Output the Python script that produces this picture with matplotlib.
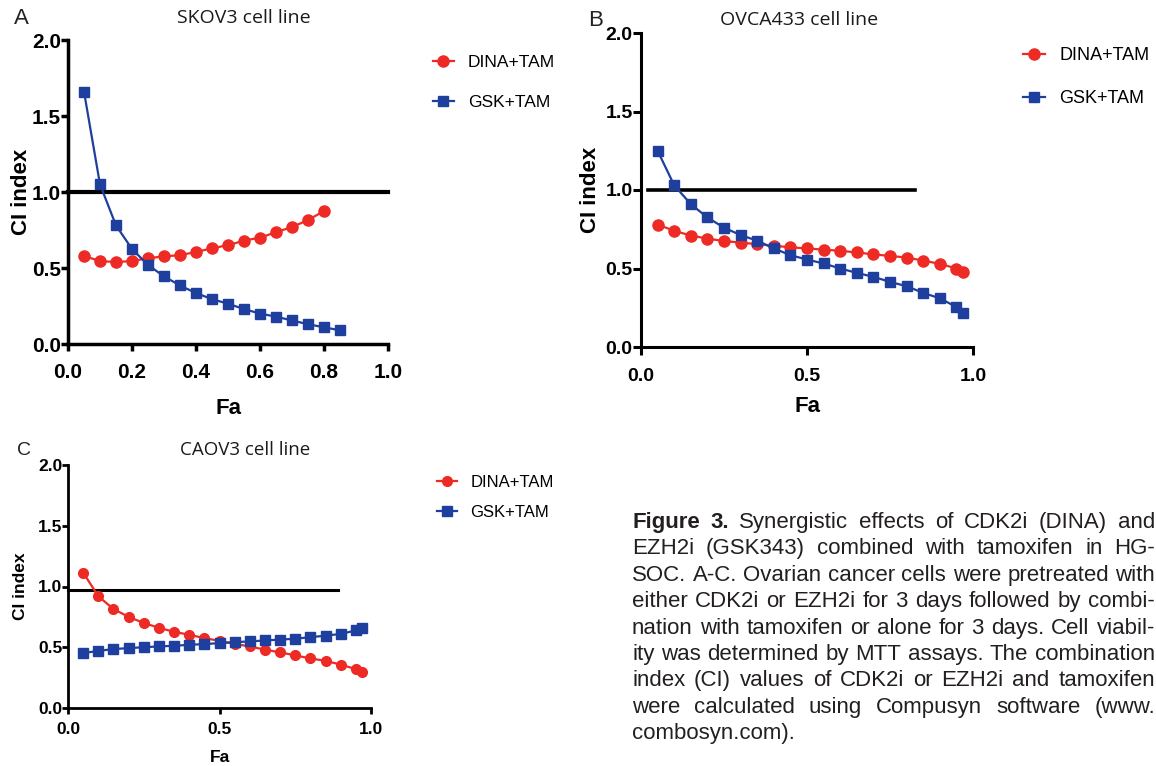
import matplotlib.pyplot as plt

# ---- data ----
fa_a_dina = [0.05, 0.10, 0.15, 0.20, 0.25, 0.30, 0.35, 0.40, 0.45, 0.50, 0.55, 0.60, 0.65, 0.70, 0.75, 0.80]
ci_a_dina = [0.58, 0.545, 0.54, 0.545, 0.565, 0.576, 0.585, 0.605, 0.63, 0.65, 0.68, 0.70, 0.735, 0.77, 0.815, 0.875]
fa_a_gsk = [0.05, 0.10, 0.15, 0.20, 0.25, 0.30, 0.35, 0.40, 0.45, 0.50, 0.55, 0.60, 0.65, 0.70, 0.75, 0.80, 0.85]
ci_a_gsk = [1.66, 1.05, 0.78, 0.625, 0.52, 0.445, 0.385, 0.335, 0.295, 0.265, 0.23, 0.20, 0.18, 0.155, 0.13, 0.11, 0.09]

fa_b = [0.05, 0.10, 0.15, 0.20, 0.25, 0.30, 0.35, 0.40, 0.45, 0.50, 0.55, 0.60, 0.65, 0.70, 0.75, 0.80, 0.85, 0.90, 0.95, 0.97]
ci_b_dina = [0.78, 0.74, 0.71, 0.69, 0.675, 0.665, 0.655, 0.645, 0.635, 0.628, 0.62, 0.613, 0.602, 0.59, 0.58, 0.57, 0.55, 0.53, 0.50, 0.48]
ci_b_gsk = [1.25, 1.03, 0.91, 0.825, 0.76, 0.713, 0.677, 0.628, 0.585, 0.557, 0.532, 0.50, 0.472, 0.447, 0.415, 0.387, 0.345, 0.31, 0.255, 0.215]

fa_c = [0.05, 0.10, 0.15, 0.20, 0.25, 0.30, 0.35, 0.40, 0.45, 0.50, 0.55, 0.60, 0.65, 0.70, 0.75, 0.80, 0.85, 0.90, 0.95, 0.97]
ci_c_dina = [1.115, 0.92, 0.815, 0.75, 0.70, 0.66, 0.627, 0.603, 0.575, 0.553, 0.527, 0.507, 0.48, 0.458, 0.433, 0.408, 0.388, 0.357, 0.32, 0.293]
ci_c_gsk = [0.452, 0.47, 0.485, 0.493, 0.50, 0.507, 0.512, 0.52, 0.526, 0.534, 0.542, 0.548, 0.556, 0.563, 0.57, 0.583, 0.595, 0.61, 0.638, 0.66]

# reference lines: (fa start, fa end, CI)
ref_a = (0.0, 1.0, 1.0)
ref_b = (0.02, 0.825, 1.0)
ref_c = (0.0, 0.89, 0.975)

titles = ["SKOV3 cell line", "OVCA433 cell line", "CAOV3 cell line"]
letters = ["A", "B", "C"]
series_names = ["DINA+TAM", "GSK+TAM"]

caption_lines = [
    "Figure 3. Synergistic effects of CDK2i (DINA) and",
    "EZH2i (GSK343) combined with tamoxifen in HG-",
    "SOC. A-C. Ovarian cancer cells were pretreated with",
    "either CDK2i or EZH2i for 3 days followed by combi-",
    "nation with tamoxifen or alone for 3 days. Cell viabil-",
    "ity was determined by MTT assays. The combination",
    "index (CI) values of CDK2i or EZH2i and tamoxifen",
    "were calculated using Compusyn software (www.",
    "combosyn.com).",
]
caption_bold_words = 2

RED = '#ee2a24'
BLUE = '#1f3f9e'
SANS = ['Liberation Sans', 'DejaVu Sans']

W, H = 1156, 766
fig = plt.figure(figsize=(W / 100, H / 100), dpi=100)


def fx(px):
  return px / W


def fy(py):
  return 1 - py / H


def panel(box, fa_d, ci_d, fa_g, ci_g, ref, xticks, st):
  """Draws one CI vs Fa panel; box is (left, top, right, bottom) in pixels."""
  l, t, r, b = box
  ax = fig.add_axes([fx(l), fy(b), fx(r - l), (b - t) / H])
  ax.plot(fa_d, ci_d, '-o', color=RED, lw=1.6, ms=st['ms'], clip_on=False, zorder=3)
  ax.plot(fa_g, ci_g, '-s', color=BLUE, lw=1.6, ms=st['ms'] - 0.5, clip_on=False, zorder=3)
  ax.plot(ref[:2], [ref[2], ref[2]], color='black', lw=st['ref_lw'], clip_on=False, zorder=2)
  ax.set_xlim(0, 1)
  ax.set_ylim(0, 2)
  ax.set_xticks(xticks)
  ax.set_yticks([0.0, 0.5, 1.0, 1.5, 2.0])
  ax.set_xticklabels(['%.1f' % v for v in xticks])
  ax.set_yticklabels(['%.1f' % v for v in [0.0, 0.5, 1.0, 1.5, 2.0]])
  for s in ['top', 'right']:
    ax.spines[s].set_visible(False)
  for s in ['left', 'bottom']:
    ax.spines[s].set_linewidth(st['spine'])
  ax.tick_params(axis='both', direction='out', length=st['tick_len'], width=st['spine'])
  ax.tick_params(axis='y', pad=0)
  ax.tick_params(axis='x', pad=st['xpad'])
  for lab in ax.get_xticklabels() + ax.get_yticklabels():
    lab.set_family(SANS)
    lab.set_fontweight('bold')
    lab.set_fontsize(st['tick_fs'])
  ax.set_ylabel('CI index', family=SANS, fontweight='bold', fontsize=st['lab_fs'], va='center')
  ax.set_xlabel('Fa', family=SANS, fontweight='bold', fontsize=st['lab_fs'], va='center')
  ax.yaxis.set_label_coords((st['ylab_x'] - l) / (r - l), 0.5)
  ax.xaxis.set_label_coords(0.5 + (st['xlab'][0] - (l + r) / 2) / (r - l), (b - st['xlab'][1]) / (b - t))
  return ax


styles = [
    dict(ms=8, ref_lw=3, spine=2.5, tick_len=5, xpad=9, tick_fs=15, lab_fs=16,
         ylab_x=22, xlab=(228, 408), title=(244, 18, 14), letter=(14, 18, 16),
         leg=(433, 55, 12.5, 1.45)),
    dict(ms=8, ref_lw=2.6, spine=2.2, tick_len=6, xpad=9, tick_fs=14, lab_fs=16,
         ylab_x=591, xlab=(807, 406), title=(799, 20, 14), letter=(588, 20, 16),
         leg=(1023, 47, 13, 1.45)),
    dict(ms=7, ref_lw=2.2, spine=2, tick_len=4, xpad=6, tick_fs=12.5, lab_fs=12.5,
         ylab_x=21, xlab=(220, 757), title=(245, 450, 13.5), letter=(17, 450, 14),
         leg=(437, 475, 12, 0.9)),
]
boxes = [(68, 40, 388, 344), (641, 33, 973, 347), (68, 465, 371, 708)]
datasets = [
    (fa_a_dina, ci_a_dina, fa_a_gsk, ci_a_gsk, ref_a, [0.0, 0.2, 0.4, 0.6, 0.8, 1.0]),
    (fa_b, ci_b_dina, fa_b, ci_b_gsk, ref_b, [0.0, 0.5, 1.0]),
    (fa_c, ci_c_dina, fa_c, ci_c_gsk, ref_c, [0.0, 0.5, 1.0]),
]

for i in range(3):
  st = styles[i]
  ax = panel(boxes[i], *datasets[i], st)
  tx, ty, tfs = st['title']
  fig.text(fx(tx), fy(ty), titles[i], family=['Open Sans', 'DejaVu Sans'],
           fontsize=tfs, ha='center', va='center', color='#1a1a1a')
  lx, ly, lfs = st['letter']
  fig.text(fx(lx), fy(ly), letters[i], family=SANS, fontsize=lfs, ha='left', va='center', color='#222222')
  gx, gy, gfs, gsp = st['leg']
  fig.legend(ax.get_lines()[:2], series_names, loc='upper left', bbox_to_anchor=(fx(gx), fy(gy)),
             frameon=False, borderpad=0, borderaxespad=0, handlelength=1.2, handletextpad=0.8,
             labelspacing=gsp, prop={'family': SANS, 'size': gfs})

# ---- justified caption ----
renderer = fig.canvas.get_renderer()
cap_left, cap_right = 632, 1155
cap_base, cap_step = 528, 26.4


def text_width(s, size, weight='normal'):
  t = fig.text(0, 0, s, fontsize=size, fontweight=weight, family=SANS)
  w = t.get_window_extent(renderer).width
  t.remove()
  return w


def line_words(k):
  words = caption_lines[k].split(' ')
  weights = ['normal'] * len(words)
  if k == 0:
    for j in range(caption_bold_words):
      weights[j] = 'bold'
  return words, weights


# pick the font size so the tightest line just fills the column
base = 14
nat = max(text_width(caption_lines[k], base) for k in range(len(caption_lines) - 1))
cap_fs = base * (cap_right - cap_left) / nat
space = text_width('a a', cap_fs) - text_width('aa', cap_fs)

for k in range(len(caption_lines)):
  words, weights = line_words(k)
  widths = [text_width(w, cap_fs, wt) for w, wt in zip(words, weights)]
  if k < len(caption_lines) - 1 and len(words) > 1:
    gap = ((cap_right - cap_left) - sum(widths)) / (len(words) - 1)
  else:
    gap = space
  x = cap_left
  for w, wt, wd in zip(words, weights, widths):
    fig.text(fx(x), fy(cap_base + k * cap_step), w, fontsize=cap_fs, fontweight=wt,
             family=SANS, ha='left', va='baseline', color='#231f20')
    x += wd + gap

fig.savefig('out.png', dpi=100)
